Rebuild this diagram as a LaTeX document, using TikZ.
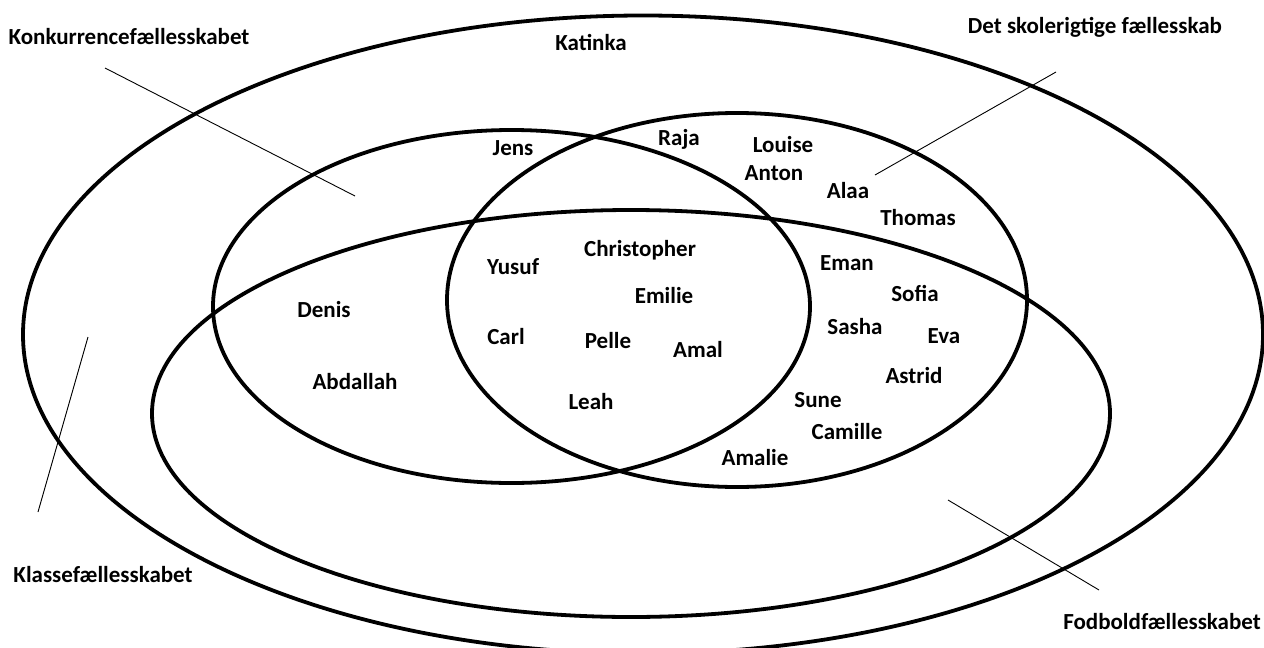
\documentclass[tikz,border=0pt]{standalone}
\usepackage{fontspec}
\setmainfont{Carlito}
\usetikzlibrary{positioning}

\begin{document}
\begin{tikzpicture}[x=1pt,y=-1pt,
		ring/.style={line width=3.8pt},
		pointer/.style={line width=0.9pt},
		kid/.style={font=\fontsize{23}{27}\selectfont\bfseries, inner sep=0pt},
		]
		\useasboundingbox (0,0) rectangle (1264,648);
		\clip (0,0) rectangle (1264,648);
		% the four groups
		\draw[ring] (643,334.5) ellipse [x radius=620, y radius=319];
		\draw[ring] (511.5,306.5) ellipse [x radius=298.5, y radius=176.5];
		\draw[ring] (737,300) ellipse [x radius=290, y radius=187];
		\draw[ring] (631,413.5) ellipse [x radius=479, y radius=203.5];
		
		\node[kid] (konk) at (129,37) {Konkurrencefællesskabet};
		\node[kid] (skole) at (1095,27) {Det skolerigtige fællesskab};
		\node[kid] (klasse) at (103,575) {Klassefællesskabet};
		\node[kid] (fodbold) at (1162,622) {Fodboldfællesskabet};
		
		\coordinate (konk1) at (105,68);
		\coordinate (konk2) at (355,196);
		\coordinate (skole1) at (1056,72);
		\coordinate (skole2) at (875,175);
		\coordinate (klasse1) at (88,337);
		\coordinate (klasse2) at (38,512);
		\coordinate (fodbold1) at (948,500);
		\coordinate (fodbold2) at (1099,590);
		\draw[pointer] (konk1) -- (konk2);
		\draw[pointer] (skole1) -- (skole2);
		\draw[pointer] (klasse1) -- (klasse2);
		\draw[pointer] (fodbold1) -- (fodbold2);
		
		\node[kid] (katinka) at (591,42) {Katinka};
		\node[kid] (jens) at (513,148) {Jens};
		\node[kid] (raja) at (679,139) {Raja};
		\node[kid] (louise) at (783,145) {Louise};
		\node[kid] (anton) at (774,173) {Anton};
		\node[kid] (alaa) at (848,191) {Alaa};
		\node[kid] (thomas) at (918,218) {Thomas};
		\node[kid] (christopher) at (640,250) {Christopher};
		\node[kid] (yusuf) at (513,267) {Yusuf};
		\node[kid] (emilie) at (664,296) {Emilie};
		\node[kid] (eman) at (847,263) {Eman};
		\node[kid] (sofia) at (915,293) {Sofia};
		\node[kid] (denis) at (324,310) {Denis};
		\node[kid] (carl) at (506,337) {Carl};
		\node[kid] (pelle) at (608,341) {Pelle};
		\node[kid] (amal) at (698,350) {Amal};
		\node[kid] (sasha) at (855,327) {Sasha};
		\node[kid] (eva) at (944,336) {Eva};
		\node[kid] (abdallah) at (355,382) {Abdallah};
		\node[kid] (astrid) at (914,376) {Astrid};
		\node[kid] (leah) at (591,402) {Leah};
		\node[kid] (sune) at (818,400) {Sune};
		\node[kid] (camille) at (847,432) {Camille};
		\node[kid] (amalie) at (755,458) {Amalie};
\end{tikzpicture}
\end{document}
